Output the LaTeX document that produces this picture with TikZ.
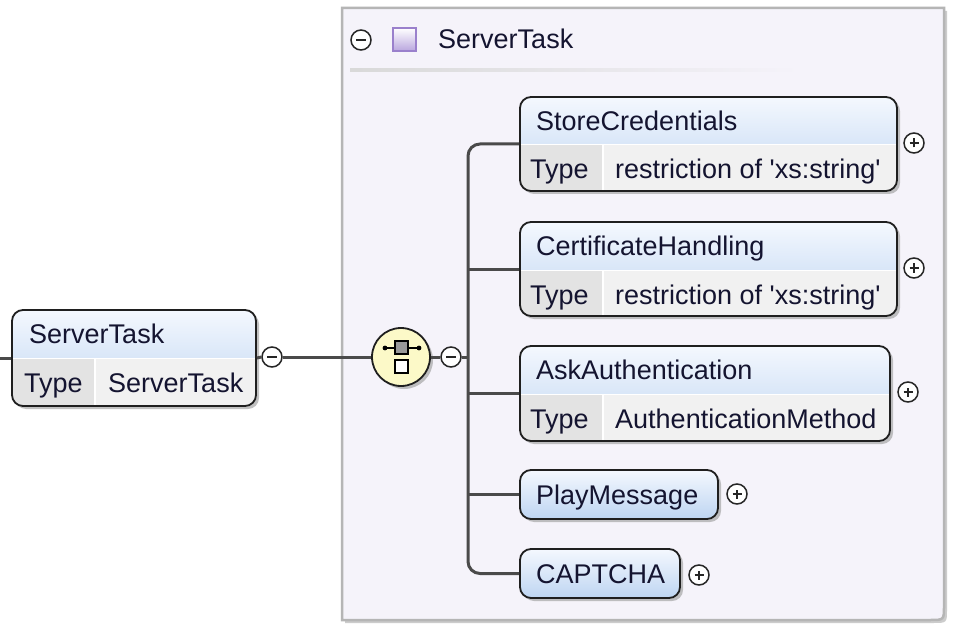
\documentclass[tikz,border=0pt]{standalone}
\usepackage{fontspec}
\setmainfont{Liberation Sans}[Ligatures=TeXOff]
\usetikzlibrary{shadows}
\definecolor{hdtop}{HTML}{F4F8FE}
\definecolor{hdbot}{HTML}{BED5F2}
\definecolor{typec}{HTML}{E3E3E3}
\definecolor{valc}{HTML}{F1F1F1}
\definecolor{grpfill}{HTML}{F5F3FA}
\definecolor{grpline}{HTML}{B5B5B5}
\definecolor{linec}{HTML}{4A4A4A}
\definecolor{seqfill}{HTML}{FCF9C8}
\definecolor{txtc}{HTML}{141430}
\definecolor{purpbot}{HTML}{B9A6DE}
\definecolor{purpline}{HTML}{9A80CC}
\begin{document}
\begin{tikzpicture}[x=1pt,y=-1pt,
  font=\fontsize{27}{31}\selectfont,
  every node/.style={text=txtc},
  elembox/.style={draw=black!88, line width=1.8pt, rounded corners=11pt, inner sep=0pt,
    drop shadow={shadow xshift=3pt, shadow yshift=-3pt, fill=black!40, opacity=0.6}},
  tworow/.style={elembox, path picture={
    \shade[sharp corners, top color=hdtop, bottom color=hdbot] (path picture bounding box.north west) rectangle ([yshift=-48pt]path picture bounding box.north east);
    \fill[sharp corners, typec] ([yshift=-48pt]path picture bounding box.north west) rectangle ([xshift=83pt]path picture bounding box.south west);
    \fill[sharp corners, valc] ([xshift=83pt,yshift=-48pt]path picture bounding box.north west) rectangle (path picture bounding box.south east);
    \draw[sharp corners, white, line width=1.5pt] ([xshift=83pt,yshift=-48pt]path picture bounding box.north west) -- ([xshift=83pt]path picture bounding box.south west);
    \draw[sharp corners, white, line width=1pt] ([yshift=-48pt]path picture bounding box.north west) -- ([yshift=-48pt]path picture bounding box.north east);
  }},
  onerow/.style={elembox, top color=hdtop, bottom color=hdbot},
  lbl/.style={anchor=base west, inner sep=0pt},
  conn/.style={draw=linec, line width=3pt},
  tog/.style={circle, draw=black!85, fill=white, minimum size=20pt, inner sep=0pt, line width=1.5pt},
  minustog/.style={tog, path picture={\draw[black!85, line width=1.8pt] ([xshift=-5pt]path picture bounding box.center) -- ([xshift=5pt]path picture bounding box.center);}},
  plustog/.style={tog, path picture={\draw[black!85, line width=1.8pt] ([xshift=-4.5pt]path picture bounding box.center) -- ([xshift=4.5pt]path picture bounding box.center) ([yshift=-4.5pt]path picture bounding box.center) -- ([yshift=4.5pt]path picture bounding box.center);}}
]
\useasboundingbox (0,0) rectangle (963,628);
\fill[white] (0,0) rectangle (963,628);

% group box
\fill[black!20] (345,11) -- (947,11) -- (947,609) .. controls (947,623) .. (933,623) -- (345,623) -- cycle;
\draw[grpline, line width=2.5pt, fill=grpfill] (342,8) -- (944,8) -- (944,606) .. controls (944,620) .. (930,620) -- (342,620) -- cycle;
\shade[left color=black!15, right color=grpfill] (350,69) rectangle (800,72);
\node[minustog] (mh) at (361,40) {};
\shade[top color=white, bottom color=purpbot, draw=purpline, line width=1.2pt] (393,28) rectangle (416,51);
\node[lbl] (grptitle) at (438,49) {ServerTask};

% left element
\node[tworow, minimum width=244pt, minimum height=96pt] (st) at (134,358) {};
\node[lbl] (stt) at (29,343) {ServerTask};
\node[lbl] (sty) at (24,392) {Type};
\node[lbl] (stv) at (108,392) {ServerTask};
\node[minustog] (m1) at (272,357) {};

% sequence compositor
\node[circle, draw=black!88, line width=1.8pt, fill=seqfill, minimum size=58pt,
  drop shadow={shadow xshift=3pt, shadow yshift=-3pt, fill=black!40, opacity=0.6}] (seq) at (401,357) {};
\draw[black, line width=1.5pt] (385,348) -- (419,348);
\fill[black] (385,348) circle (2.4pt) (419,348) circle (2.4pt);
\filldraw[fill=black!40, draw=black, line width=1.3pt] (395,341) rectangle (408,354);
\filldraw[fill=white, draw=black, line width=1.3pt] (395,360) rectangle (408,373);
\node[minustog] (m2) at (451,357) {};

% children
\node[tworow, minimum width=377pt, minimum height=94pt] (sc) at (708.5,144) {};
\node[lbl] (sct) at (536,130.5) {StoreCredentials};
\node[lbl] (scy) at (530,179) {Type};
\node[lbl] (scv) at (615,179) {restriction of 'xs:string'};
\node[plustog] (p1) at (914,143) {};

\node[tworow, minimum width=377pt, minimum height=94pt] (ch) at (708.5,269) {};
\node[lbl] (cht) at (536,255.5) {CertificateHandling};
\node[lbl] (chy) at (530,304) {Type};
\node[lbl] (chv) at (615,304) {restriction of 'xs:string'};
\node[plustog] (p2) at (914,268) {};

\node[tworow, minimum width=370pt, minimum height=95pt] (aa) at (705,393.5) {};
\node[lbl] (aat) at (536,379.5) {AskAuthentication};
\node[lbl] (aay) at (530,428.5) {Type};
\node[lbl] (aav) at (615,428.5) {AuthenticationMethod};
\node[plustog] (p3) at (908,392) {};

\node[onerow, minimum width=198pt, minimum height=49pt] (pm) at (619,494.5) {};
\node[lbl] (pmt) at (536,504) {PlayMessage};
\node[plustog] (p4) at (737,494) {};

\node[onerow, minimum width=160pt, minimum height=49pt] (cap) at (600,573.5) {};
\node[lbl] (capt) at (536,583) {CAPTCHA};
\node[plustog] (p5) at (699,575) {};

% connectors
\coordinate (lstub) at (0,358);
\coordinate (bustop) at (468,144);
\coordinate (busbot) at (468,573.5);
\draw[conn] (lstub) -- (st.west);
\draw[conn] (st.east) -- (m1.west);
\draw[conn] (m1.east) -- (seq.west);
\draw[conn] (seq.east) -- (m2.west);
\draw[conn] (m2.east) -- (m2.east -| bustop);
\draw[conn, rounded corners=12pt] (sc.west) -- (bustop) -- (busbot) -- (cap.west);
\draw[conn] (ch.west -| bustop) -- (ch.west);
\draw[conn] (aa.west -| bustop) -- (aa.west);
\draw[conn] (pm.west -| bustop) -- (pm.west);
\end{tikzpicture}
\end{document}
